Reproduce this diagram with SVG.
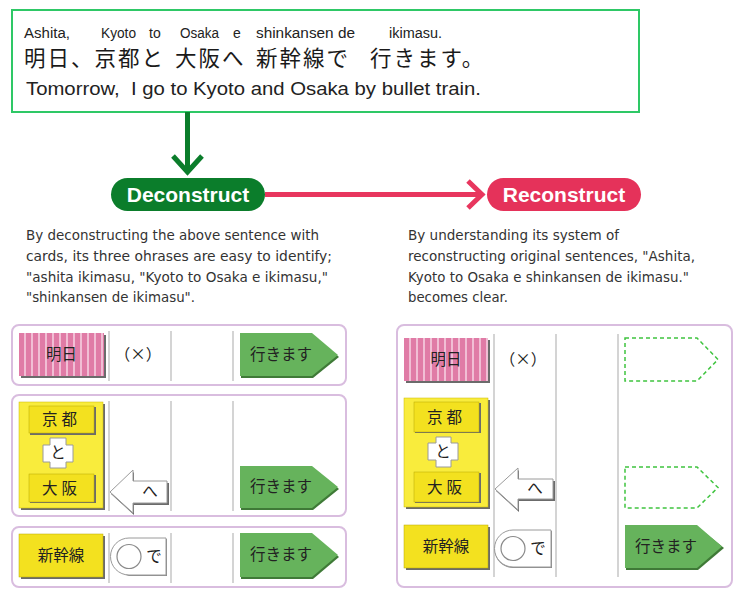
<svg xmlns="http://www.w3.org/2000/svg" width="744" height="603" viewBox="0 0 744 603">
<style>
.bg{fill:#ffffff}
.jp{font-family:"Noto Sans CJK JP","Noto Sans",sans-serif;fill:#1a1a1a}
.en{font-family:"Liberation Sans",Arial,sans-serif;fill:#222}
.desc{font-family:"DejaVu Sans","Noto Sans",sans-serif;font-size:13.5px;fill:#333}
.panel{fill:#fff;stroke:#d9bddf;stroke-width:2}
.sep{stroke:#d4d4d4;stroke-width:2}
.shadow{fill:#6b6b6b}
.gshadow{fill:#3f7a37}
.green{fill:#66b35c}
.ybig{fill:#f9ec3c;stroke:#c9b800;stroke-width:0.5}
.yel{fill:#f3e11f;stroke:#b8a800;stroke-width:0.5}
.white{fill:#fff;stroke:#9a9a9a;stroke-width:1}
.dash{fill:#fff;stroke:#3fc43f;stroke-width:1.5;stroke-dasharray:4 3}
.cardtxt{font-family:"Noto Sans CJK JP",sans-serif;font-size:15.5px;fill:#222;text-anchor:middle}
.pilltxt{font-family:"Liberation Sans",Arial,sans-serif;font-size:21px;font-weight:bold;fill:#fff;text-anchor:middle}
</style>
<defs>
<pattern id="stripes" x="19" y="0" width="7" height="10" patternUnits="userSpaceOnUse">
<rect width="7" height="10" fill="#e07ba6"/>
<line x1="6" y1="0" x2="6" y2="10" stroke="#fbe3ee" stroke-width="1.3"/>
</pattern>
<pattern id="stripes2" x="404" y="0" width="7" height="10" patternUnits="userSpaceOnUse">
<rect width="7" height="10" fill="#e07ba6"/>
<line x1="6" y1="0" x2="6" y2="10" stroke="#fbe3ee" stroke-width="1.3"/>
</pattern>
</defs>
<rect class="bg" x="0" y="0" width="744" height="603"/>

<g id="sentence">
<rect x="12" y="10" width="627" height="102" fill="#fff" stroke="#2ec866" stroke-width="2"/>
<g class="en" font-size="14">
<text x="24" y="38" textLength="46" lengthAdjust="spacingAndGlyphs">Ashita,</text>
<text x="101" y="38" textLength="35" lengthAdjust="spacingAndGlyphs">Kyoto</text>
<text x="149" y="38">to</text>
<text x="180" y="38" textLength="39" lengthAdjust="spacingAndGlyphs">Osaka</text>
<text x="233" y="38">e</text>
<text x="256" y="38" textLength="99" lengthAdjust="spacingAndGlyphs">shinkansen de</text>
<text x="389" y="38" textLength="53" lengthAdjust="spacingAndGlyphs">ikimasu.</text>
</g>
<g class="jp" font-size="21.5" letter-spacing="2">
<text x="24" y="66">明日、京都と</text>
<text x="175" y="66">大阪へ</text>
<text x="256" y="66">新幹線で</text>
<text x="370" y="66">行きます。</text>
</g>
<text class="en" x="26" y="95" font-size="17.5" textLength="455" lengthAdjust="spacingAndGlyphs" xml:space="preserve">Tomorrow,  I go to Kyoto and Osaka by bullet train.</text>
</g>

<g id="connectors">
<line x1="187.5" y1="112" x2="187.5" y2="172" stroke="#0b7d2b" stroke-width="5"/>
<polyline points="173,156 187.5,172 202,156" fill="none" stroke="#0b7d2b" stroke-width="5" stroke-linejoin="miter"/>
<line x1="265" y1="194.5" x2="482" y2="194.5" stroke="#e8365e" stroke-width="5"/>
<polyline points="468,181 482,194.5 468,208" fill="none" stroke="#e8365e" stroke-width="5" stroke-linejoin="miter"/>
</g>

<g id="deconstruct">
<rect x="111" y="178" width="154" height="33" rx="16.5" fill="#0b7d2b"/>
<text class="pilltxt" x="188" y="202">Deconstruct</text>
</g>
<g id="reconstruct">
<rect x="487" y="178" width="154" height="33" rx="16.5" fill="#e5325a"/>
<text class="pilltxt" x="564" y="202">Reconstruct</text>
</g>

<g id="desc-left" class="desc">
<text x="26" y="240" textLength="293" lengthAdjust="spacingAndGlyphs">By deconstructing the above sentence with</text>
<text x="26" y="261" textLength="306" lengthAdjust="spacingAndGlyphs">cards, its three ohrases are easy to identify;</text>
<text x="26" y="282" textLength="302" lengthAdjust="spacingAndGlyphs">"ashita ikimasu, "Kyoto to Osaka e ikimasu,"</text>
<text x="26" y="302" textLength="169" lengthAdjust="spacingAndGlyphs">"shinkansen de ikimasu".</text>
</g>
<g id="desc-right" class="desc">
<text x="408" y="240" textLength="211" lengthAdjust="spacingAndGlyphs">By understanding its system of</text>
<text x="408" y="261" textLength="287" lengthAdjust="spacingAndGlyphs">reconstructing original sentences, "Ashita,</text>
<text x="408" y="282" textLength="281" lengthAdjust="spacingAndGlyphs">Kyoto to Osaka e shinkansen de ikimasu."</text>
<text x="408" y="302" textLength="100" lengthAdjust="spacingAndGlyphs">becomes clear.</text>
</g>

<g id="row1">
<rect class="panel" x="12" y="325" width="334" height="60" rx="7"/>
<line class="sep" x1="109" y1="331" x2="109" y2="381"/>
<line class="sep" x1="171" y1="331" x2="171" y2="381"/>
<line class="sep" x1="233" y1="331" x2="233" y2="381"/>
<rect class="shadow" x="21" y="335" width="85" height="43"/>
<rect x="19" y="333" width="85" height="43" fill="url(#stripes)"/>
<text class="cardtxt" x="61.5" y="360">明日</text>
<text class="cardtxt" x="138" y="360">（×）</text>
<polygon class="gshadow" points="241,335 313,335 339,357 313,378 241,378"/>
<polygon class="green" points="240,333 312,333 338,355 312,376 240,376"/>
<text class="cardtxt" x="281" y="360">行きます</text>
</g>

<g id="row2">
<rect class="panel" x="12" y="395" width="334" height="121" rx="7"/>
<line class="sep" x1="109" y1="401" x2="109" y2="511"/>
<line class="sep" x1="171" y1="401" x2="171" y2="511"/>
<line class="sep" x1="233" y1="401" x2="233" y2="511"/>
<rect class="shadow" x="21" y="404" width="84" height="106"/>
<rect class="ybig" x="19" y="402" width="84" height="106"/>
<rect class="shadow" x="30" y="407" width="66" height="28"/>
<rect class="yel" x="29" y="406" width="65" height="27"/>
<text class="cardtxt" x="61.5" y="425" font-size="16" letter-spacing="4">京都</text>
<path class="white" d="M50,438 H66 V445 H73 V462 H66 V468 H50 V462 H43 V445 H50 Z"/>
<text class="cardtxt" x="58" y="458">と</text>
<rect class="shadow" x="30" y="475" width="66" height="28"/>
<rect class="yel" x="29" y="474" width="65" height="28"/>
<text class="cardtxt" x="61.5" y="494" font-size="16" letter-spacing="4">大阪</text>
<polygon class="shadow" points="111,494 134,472 134,483 169,483 169,505 134,505 134,515"/>
<polygon class="white" points="110,492 133,470 133,481 167,481 167,503 133,503 133,513"/>
<text class="cardtxt" x="150" y="497">へ</text>
<polygon class="gshadow" points="241,468 313,468 339,489 313,510 241,510"/>
<polygon class="green" points="240,466 312,466 338,487 312,508 240,508"/>
<text class="cardtxt" x="281" y="492">行きます</text>
</g>

<g id="row3">
<rect class="panel" x="12" y="527" width="334" height="60" rx="7"/>
<line class="sep" x1="109" y1="533" x2="109" y2="583"/>
<line class="sep" x1="171" y1="533" x2="171" y2="583"/>
<line class="sep" x1="233" y1="533" x2="233" y2="583"/>
<rect class="shadow" x="21" y="536" width="84" height="43"/>
<rect class="yel" x="19" y="534" width="84" height="43"/>
<text class="cardtxt" x="61" y="561" font-size="16">新幹線</text>
<path d="M129,539 H167 V576 H129 A19,19 0 0 1 129,539 Z" fill="#8a8a8a"/>
<path class="white" d="M129,538 H166 V575 H129 A18.5,18.5 0 0 1 129,538 Z"/>
<circle cx="129" cy="556.5" r="12" fill="#fff" stroke="#8a8a8a" stroke-width="1.2"/>
<text class="cardtxt" x="154" y="562" font-size="14">で</text>
<polygon class="gshadow" points="241,535 313,535 339,557 313,579 241,579"/>
<polygon class="green" points="240,533 312,533 338,555 312,577 240,577"/>
<text class="cardtxt" x="281" y="560">行きます</text>
</g>

<g id="reconstructed">
<rect class="panel" x="397" y="325" width="335" height="262" rx="7"/>
<line class="sep" x1="494" y1="334" x2="494" y2="577"/>
<line class="sep" x1="556" y1="334" x2="556" y2="577"/>
<line class="sep" x1="618" y1="334" x2="618" y2="577"/>
<rect class="shadow" x="406" y="340" width="84" height="43"/>
<rect x="404" y="338" width="84" height="43" fill="url(#stripes2)"/>
<text class="cardtxt" x="446" y="365">明日</text>
<text class="cardtxt" x="523" y="365">（×）</text>
<rect class="shadow" x="406" y="400" width="84" height="109"/>
<rect class="ybig" x="404" y="398" width="84" height="109"/>
<rect class="shadow" x="415" y="403" width="66" height="30"/>
<rect class="yel" x="414" y="402" width="65" height="30"/>
<text class="cardtxt" x="446.5" y="423" font-size="16" letter-spacing="4">京都</text>
<path class="white" d="M436,437 H451 V443 H458 V460 H451 V467 H436 V460 H428 V443 H436 Z"/>
<text class="cardtxt" x="443" y="457">と</text>
<rect class="shadow" x="415" y="473" width="66" height="30"/>
<rect class="yel" x="414" y="472" width="65" height="30"/>
<text class="cardtxt" x="446.5" y="493" font-size="16" letter-spacing="4">大阪</text>
<polygon class="shadow" points="496,491 519,470 519,481 555,481 555,501 519,501 519,512"/>
<polygon class="white" points="495,489 518,468 518,479 553,479 553,499 518,499 518,510"/>
<text class="cardtxt" x="535" y="494">へ</text>
<polygon class="dash" points="625,338 697,338 718,359.5 697,381 625,381"/>
<polygon class="dash" points="625,467 697,467 718,487.5 697,508 625,508"/>
<rect class="shadow" x="406" y="527" width="84" height="43"/>
<rect class="yel" x="404" y="525" width="84" height="43"/>
<text class="cardtxt" x="446" y="552" font-size="16">新幹線</text>
<path d="M513,531 H552 V568 H513 A18.5,18.5 0 0 1 513,531 Z" fill="#8a8a8a"/>
<path class="white" d="M513,530 H551 V567 H513 A18.5,18.5 0 0 1 513,530 Z"/>
<circle cx="513" cy="548.5" r="12" fill="#fff" stroke="#8a8a8a" stroke-width="1.2"/>
<text class="cardtxt" x="538" y="554" font-size="14">で</text>
<polygon class="gshadow" points="626,527 698,527 724,548 698,570 626,570"/>
<polygon class="green" points="625,525 697,525 722,546.5 697,568 625,568"/>
<text class="cardtxt" x="666" y="552">行きます</text>
</g>
</svg>
